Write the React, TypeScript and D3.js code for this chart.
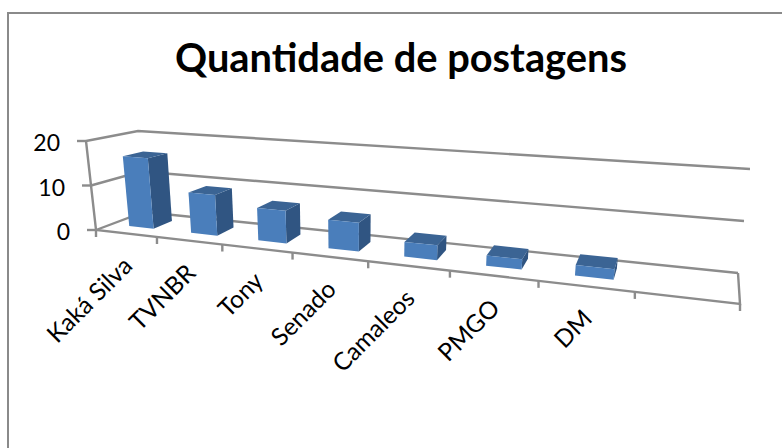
import React from 'react';
import * as d3 from 'd3';

const chartTitle = 'Quantidade de postagens';
const categories = ['Kaká Silva', 'TVNBR', 'Tony', 'Senado', 'Camaleos', 'PMGO', 'DM', ''];
const postCounts = [16, 9, 7, 6, 3, 2, 2];
const valueTicks = [0, 10, 20];

// projected box corners: [x, y] at floor level and at the top of the value axis
type Pt = [number, number];
const frontLeft = { floor: [96, 230] as Pt, top: [86, 141] as Pt };
const frontRight = { floor: [740, 304] as Pt, top: [754, 190] as Pt };
const backLeft = { floor: [144, 212] as Pt, top: [138, 131] as Pt };
const backRight = { floor: [738, 273] as Pt, top: [750, 169] as Pt };
const perspective = 1.366;
const barDepth = [0.33, 0.74];
const barSpan = [0.35, 0.76];
const barNudge = [-0.05, -0.03, 0, 0, 0, 0, 0]; // first bars sit a bit left of the warp

const band = d3.scaleBand<string>().domain(categories).range([0, 1]).paddingInner(0).paddingOuter(0);
const valueScale = d3.scaleLinear().domain([0, 20]).range([0, 1]);

const warp = (u: number) => u / (u + perspective * (1 - u));
const mix = (a: Pt, b: Pt, t: number): Pt => [a[0] + (b[0] - a[0]) * t, a[1] + (b[1] - a[1]) * t];

// u: along categories, v: depth front to back, w: height
const project = (u: number, v: number, w: number): Pt => {
  const t = warp(u);
  const floor = mix(mix(frontLeft.floor, frontRight.floor, t), mix(backLeft.floor, backRight.floor, t), v);
  const top = mix(mix(frontLeft.top, frontRight.top, t), mix(backLeft.top, backRight.top, t), v);
  return mix(floor, top, w);
};

const poly = d3.line<Pt>().x(d => d[0]).y(d => d[1]);
const closed = (pts: Pt[]) => poly(pts) + 'Z';

const axisColor = '#8c8c8c';
const labelFont = 'Lato, "Open Sans", sans-serif';

const App: React.FC = () => {
  const step = band.step();
  const tickUs = categories.map((_, i) => i * step).concat(1);

  return (
    <svg width={782} height={448} style={{ position: 'absolute', left: 0, top: 0, background: '#fff' }}>
      {/* chart frame: only top and left edges are in the crop */}
      <path d="M8,448V13H782" fill="none" stroke="#8a8a8a" strokeWidth={2} />

      <text x={401} y={72} textAnchor="middle" fontFamily={labelFont} fontWeight={700} fontSize={39.8} fill="#000">
        {chartTitle}
      </text>

      {/* walls and gridlines */}
      <g fill="none" stroke={axisColor} strokeWidth={2.4}>
        {valueTicks.map(t => {
          const w = valueScale(t);
          return <path key={t} d={poly([project(0, 0, w), project(0, 1, w), project(1, 1, w)]) ?? ''} />;
        })}
        <path d={poly([project(0, 0, 1), project(0, 0, 0), project(1, 0, 0), project(1, 1, 0)]) ?? ''} />
        {valueTicks.map(t => {
          const p = project(0, 0, valueScale(t));
          return <path key={t} d={`M${p[0] - 9},${p[1]}H${p[0]}`} />;
        })}
        {tickUs.map(u => {
          const p = project(u, 0, 0);
          return <path key={u} d={`M${p[0]},${p[1]}V${p[1] + 7}`} />;
        })}
      </g>

      {valueTicks.map(t => {
        const p = project(0, 0, valueScale(t));
        return (
          <text key={t} x={p[0] - 26} y={p[1] + 10} textAnchor="end" fontFamily={labelFont} fontSize={23} fill="#000">
            {t}
          </text>
        );
      })}

      {/* bars */}
      {postCounts.map((value, i) => {
        const start = band(categories[i]) as number;
        const u0 = start + step * (barSpan[0] + barNudge[i]);
        const u1 = start + step * (barSpan[1] + barNudge[i]);
        const [v0, v1] = barDepth;
        const w = valueScale(value);
        return (
          <g key={categories[i]}>
            <path d={closed([project(u1, v0, 0), project(u1, v1, 0), project(u1, v1, w), project(u1, v0, w)])} fill="#305582" />
            <path d={closed([project(u0, v0, w), project(u1, v0, w), project(u1, v1, w), project(u0, v1, w)])} fill="#3b6494" />
            <path d={closed([project(u0, v0, 0), project(u1, v0, 0), project(u1, v0, w), project(u0, v0, w)])} fill="#4a7ebb" />
          </g>
        );
      })}

      {/* category labels */}
      {categories.map((name, i) => {
        const start = band(name) as number;
        const p = project(start + step / 2, 0, 0);
        return (
          <text
            key={name || i}
            transform={`translate(${p[0] + 8},${p[1] + 34}) rotate(-45)`}
            textAnchor="end"
            fontFamily={labelFont}
            fontSize={24.5}
            fill="#000"
          >
            {name}
          </text>
        );
      })}
    </svg>
  );
};

export default App;
